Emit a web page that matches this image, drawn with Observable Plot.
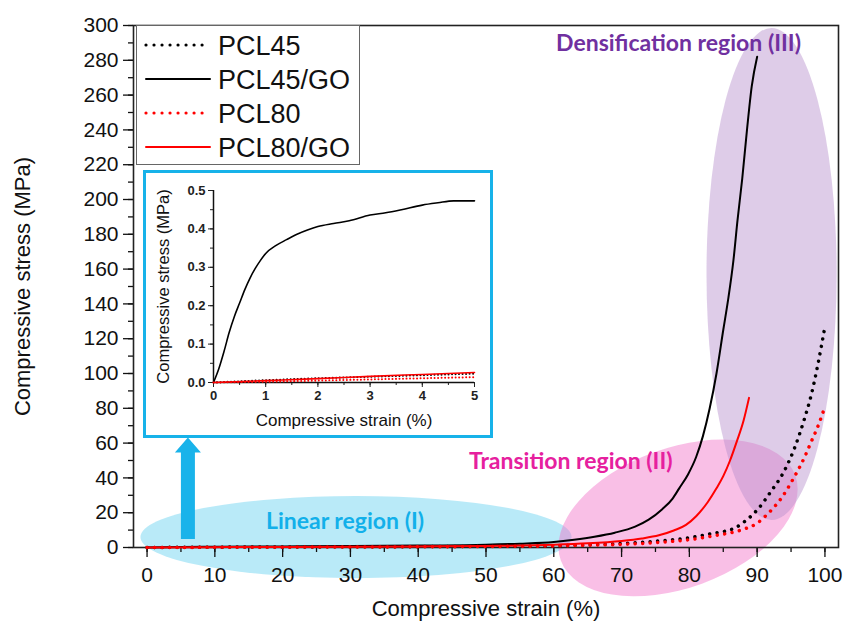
<!DOCTYPE html>
<html><head><meta charset="utf-8">
<script src="https://cdn.jsdelivr.net/npm/d3@7"></script>
<script src="https://cdn.jsdelivr.net/npm/@observablehq/plot@0.6"></script>
<style>
body{margin:0;background:#fff;}
#wrap{position:relative;width:846px;height:632px;overflow:hidden;font-family:"Liberation Sans",Arial,sans-serif;}
#main{position:absolute;left:0;top:0;}
#inset{position:absolute;left:143px;top:170px;width:350px;height:268px;box-sizing:border-box;border:3px solid #17b2e9;background:#fff;}
#legend{position:absolute;left:136px;top:25px;}
</style></head><body>
<div id="wrap"><div id="main"></div><div id="inset"></div><svg id="legend" width="225" height="142"></svg></div>
<script>
// ---- series names ----
const SERIES = ["PCL45", "PCL45/GO", "PCL80", "PCL80/GO"];

// ---- main chart data: [strain %, stress MPa] ----
const PCL45 = [[0,0],[10,0.2],[20,0.3],[30,0.4],[40,0.5],[50,0.7],[60,1],[65,1.5],[70,2.3],[75,3.6],[80,5.6],[83,7.8],[86.6,11],[88.5,16],[90.1,22],[92,32],[94,44],[95.5,57],[96.9,73],[98,88],[99,106],[100,127]];
const PCL45_GO = [[0,0],[5,0.3],[10,0.4],[20,0.6],[30,0.8],[40,1.1],[50,1.6],[55,2.2],[60,3.2],[63,4.5],[66,6.2],[69,8.5],[72,12],[74,16],[76,22],[77.5,28],[78.5,34],[79.8,42],[81,52],[82,64],[83,80],[84,100],[85,125],[85.7,142],[86.5,165],[87.1,188],[87.8,212],[88.5,240],[89.2,265],[90,282]];
const PCL80 = [[0,0],[10,0.1],[20,0.2],[30,0.3],[40,0.4],[50,0.6],[60,0.9],[65,1.3],[70,1.8],[75,2.8],[80.2,4.6],[84,7],[87.6,10],[90,14],[91.6,19.5],[93.5,28],[95.4,40],[97,52],[98,61],[99,70],[100,81]];
const PCL80_GO = [[0,0],[10,0.2],[20,0.3],[30,0.4],[40,0.6],[50,0.9],[60,1.6],[65,2.4],[70,3.8],[73,5.2],[75.5,7],[77.7,9.8],[79.5,13],[81,18],[82.7,26],[84,34],[85,41],[86,50],[87,61],[88,73],[88.8,86]];

// ---- inset data: [strain %, stress MPa] ----
const INSET_PCL45 = [[0,0],[1,0.006],[2,0.011],[3,0.015],[4,0.019],[5,0.023]];
const INSET_PCL45_GO = [[0,0],[0.1,0.035],[0.2,0.08],[0.3,0.13],[0.4,0.172],[0.5,0.207],[0.6,0.242],[0.7,0.272],[0.8,0.297],[0.9,0.318],[1.0,0.336],[1.2,0.357],[1.4,0.372],[1.6,0.386],[1.8,0.397],[2.0,0.406],[2.3,0.414],[2.6,0.421],[3.0,0.436],[3.3,0.442],[3.6,0.450],[4.0,0.462],[4.3,0.468],[4.6,0.473],[5.0,0.473]];
const INSET_PCL80 = [[0,0],[1,0.002],[2,0.005],[3,0.008],[4,0.011],[5,0.014]];
const INSET_PCL80_GO = [[0,0],[1,0.005],[2,0.010],[3,0.016],[4,0.021],[5,0.026]];

// ---- ticks ----
const X_TICKS = d3.range(0, 101, 10);
const X_MINOR = d3.range(0, 101, 5);
const Y_TICKS = d3.range(0, 301, 20);
const Y_MINOR = d3.range(0, 301, 10);
const IX_TICKS = [0, 1, 2, 3, 4, 5];
const IX_MINOR = [0, 0.5, 1, 1.5, 2, 2.5, 3, 3.5, 4, 4.5, 5];
const IY_TICKS = [0, 0.1, 0.2, 0.3, 0.4, 0.5];
const IY_MINOR = [0, 0.05, 0.1, 0.15, 0.2, 0.25, 0.3, 0.35, 0.4, 0.45, 0.5];

// ---- annotations (data units) ----
const REGIONS = [
  {cx: 30.9, cy: 5.7, rx: 31.8, ry: 23.6, rotate: 0, fill: "#7fd9f2", opacity: 0.55},
  {cx: 78.4, cy: 16.7, rx: 18.4, ry: 40.2, rotate: -20, fill: "#f272c8", opacity: 0.45},
  {cx: 92.2, cy: 156.9, rx: 9.6, ry: 141.4, rotate: 0, fill: "#b58fcb", opacity: 0.45}
];
const REGION_LABELS = [
  {text: "Densification region (III)", x: 78.4, y: 289.5, color: "#7030a0"},
  {text: "Transition region (II)", x: 62.5, y: 49.4, color: "#e6209e"},
  {text: "Linear region (I)", x: 29.2, y: 14.9, color: "#12b0ea"}
];
const ARROW = {x: 6.1, y0: 4.6, y1: 63, color: "#19b3ea"};

const STYLE = {
  "PCL45": {color: "#000", dotted: true},
  "PCL45/GO": {color: "#000", dotted: false},
  "PCL80": {color: "#ff0000", dotted: true},
  "PCL80/GO": {color: "#ff0000", dotted: false}
};
const MAIN_DATA = {"PCL45": PCL45, "PCL45/GO": PCL45_GO, "PCL80": PCL80, "PCL80/GO": PCL80_GO};
const INSET_DATA = {"PCL45": INSET_PCL45, "PCL45/GO": INSET_PCL45_GO, "PCL80": INSET_PCL80, "PCL80/GO": INSET_PCL80_GO};

const fn = s => typeof s === "function" ? s : (v => s.apply(v));

function ellipsesMark(specs) {
  return (index, scales) => {
    const sx = fn(scales.x), sy = fn(scales.y);
    const g = d3.create("svg:g");
    for (const e of specs) {
      const px = sx(e.cx), py = sy(e.cy);
      const rxp = Math.abs(sx(e.cx + e.rx) - px), ryp = Math.abs(sy(e.cy + e.ry) - py);
      g.append("ellipse").attr("cx", px).attr("cy", py).attr("rx", rxp).attr("ry", ryp)
        .attr("transform", `rotate(${e.rotate} ${px} ${py})`)
        .attr("fill", e.fill).attr("fill-opacity", e.opacity);
    }
    return g.node();
  };
}
function arrowMark(a) {
  return (index, scales) => {
    const sx = fn(scales.x), sy = fn(scales.y);
    const x = sx(a.x), y0 = sy(a.y0), y1 = sy(a.y1);
    const sw = 7, hw = 13, hl = 15;
    const d = `M${x-sw},${y0}L${x-sw},${y1+hl}L${x-hw},${y1+hl}L${x},${y1}L${x+hw},${y1+hl}L${x+sw},${y1+hl}L${x+sw},${y0}Z`;
    return d3.create("svg:path").attr("d", d).attr("fill", a.color).node();
  };
}
function seriesLines(dataMap, solidW, dotW, dotGap) {
  return SERIES.map(name => {
    const st = STYLE[name];
    return Plot.line(dataMap[name], {
      x: d => d[0], y: d => d[1], stroke: st.color,
      strokeWidth: st.dotted ? dotW : solidW,
      strokeDasharray: st.dotted ? `0.01 ${dotGap}` : null,
      strokeLinecap: "round", curve: "monotone-x"
    });
  });
}

const main = Plot.plot({
  width: 846, height: 632,
  marginLeft: 133, marginRight: 8, marginTop: 25, marginBottom: 85,
  x: {domain: [-2, 102]}, y: {domain: [0, 300]},
  style: {fontFamily: "Liberation Sans, Arial, sans-serif", fontSize: "21px", color: "#111", background: "#fff", overflow: "visible"},
  marks: [
    ellipsesMark(REGIONS),
    arrowMark(ARROW),
    Plot.axisX(X_MINOR, {tickSize: 5, tickFormat: () => "", label: null, strokeWidth: 1.3}),
    Plot.axisX(X_TICKS, {tickSize: 10, tickPadding: 10, label: null, strokeWidth: 1.3}),
    Plot.axisY(Y_MINOR, {tickSize: 5, tickFormat: () => "", label: null, strokeWidth: 1.3}),
    Plot.axisY(Y_TICKS, {tickSize: 10, tickPadding: 5, label: null, strokeWidth: 1.3}),
    Plot.frame({stroke: "#222", strokeWidth: 1.6}),
    ...seriesLines(MAIN_DATA, 2, 3.5, 7.5),
    ...REGION_LABELS.map(l => Plot.text([l], {x: "x", y: "y", text: "text", fill: l.color, fontFamily: "Lato, Open Sans, sans-serif", fontWeight: "bold", fontSize: 23})),
    Plot.text(["Compressive strain (%)"], {text: d => d, frameAnchor: "bottom", dy: 68, lineAnchor: "bottom", textAnchor: "middle", fontSize: 22, fill: "#111"}),
    Plot.text(["Compressive stress (MPa)"], {text: d => d, frameAnchor: "left", dx: -119, rotate: -90, lineAnchor: "top", textAnchor: "middle", fontSize: 22, fill: "#111"})
  ]
});
document.getElementById("main").append(main);

const inset = Plot.plot({
  width: 344, height: 262,
  marginLeft: 67, marginRight: 16, marginTop: 17, marginBottom: 53,
  x: {domain: [0, 5]}, y: {domain: [0, 0.5]},
  style: {fontFamily: "Liberation Sans, Arial, sans-serif", fontSize: "13px", color: "#222", background: "transparent", overflow: "visible"},
  marks: [
    Plot.axisX(IX_MINOR, {tickSize: 3, tickFormat: () => "", label: null}),
    Plot.axisX(IX_TICKS, {tickSize: 5, tickPadding: 3, label: null, fontWeight: "bold"}),
    Plot.axisY(IY_MINOR, {tickSize: 3, tickFormat: () => "", label: null}),
    Plot.axisY(IY_TICKS, {tickSize: 5, tickPadding: 3, tickFormat: d3.format(".1f"), label: null, fontWeight: "bold"}),
    Plot.ruleX([0], {stroke: "#111", strokeWidth: 1.5}),
    Plot.ruleY([0], {stroke: "#111", strokeWidth: 1.5}),
    ...seriesLines(INSET_DATA, 1.6, 2, 3.5),
    Plot.text(["Compressive strain (%)"], {text: d => d, frameAnchor: "bottom", dy: 43, lineAnchor: "bottom", textAnchor: "middle", fontSize: 17, fill: "#111"}),
    Plot.text(["Compressive stress (MPa)"], {text: d => d, frameAnchor: "left", dx: -56, rotate: -90, lineAnchor: "top", textAnchor: "middle", fontSize: 16.5, fill: "#111"})
  ]
});
document.getElementById("inset").append(inset);

// ---- legend ----
const leg = d3.select("#legend");
leg.append("rect").attr("x", 0.5).attr("y", 0.5).attr("width", 223).attr("height", 139)
  .attr("fill", "#fff").attr("stroke", "#666").attr("stroke-width", 1);
SERIES.forEach((name, i) => {
  const st = STYLE[name];
  const y = 20 + i * 34;
  leg.append("line").attr("x1", 10).attr("x2", 74).attr("y1", y).attr("y2", y)
    .attr("stroke", st.color).attr("stroke-width", st.dotted ? 3.2 : 2)
    .attr("stroke-linecap", "round").attr("stroke-dasharray", st.dotted ? "0.01 8" : null);
  leg.append("text").attr("x", 82).attr("y", y).attr("dy", "0.36em")
    .attr("font-family", "Liberation Sans, Arial, sans-serif").attr("font-size", 27).attr("fill", "#111").text(name);
});
</script></body></html>
